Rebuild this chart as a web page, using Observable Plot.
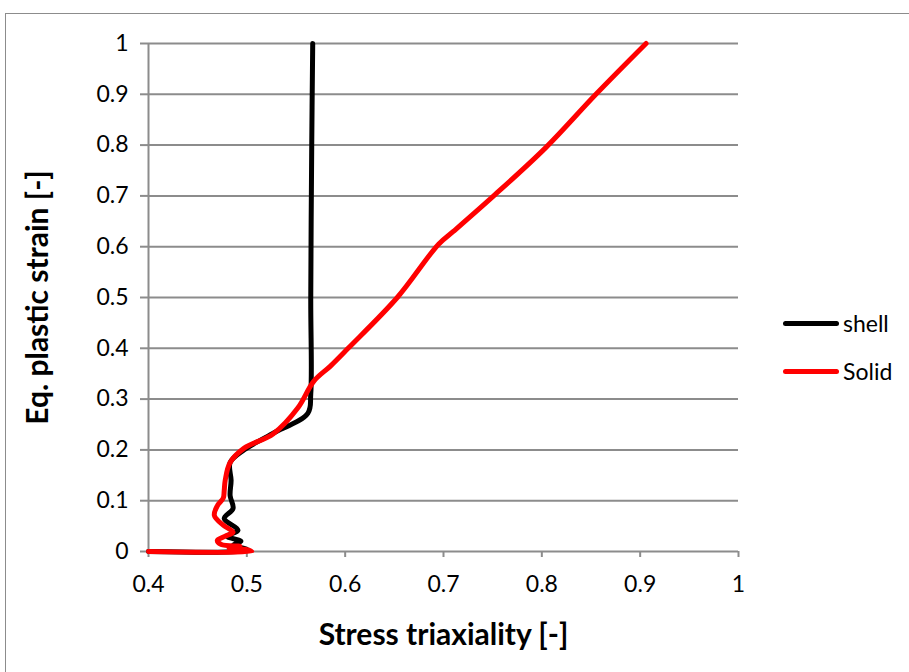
<!DOCTYPE html>
<html>
<head>
<meta charset="utf-8">
<script src="https://cdn.jsdelivr.net/npm/d3@7"></script>
<script src="https://cdn.jsdelivr.net/npm/@observablehq/plot@0.6"></script>
<style>
  html, body { margin: 0; padding: 0; background: #fff; }
  #wrap { position: relative; width: 909px; height: 672px; overflow: hidden; font-family: Lato, "Open Sans", sans-serif; }
  #frame { position: absolute; left: 5px; top: 13px; width: 1000px; height: 1000px; border: 1.5px solid #8c8c8c; box-sizing: border-box; }
  #chart { position: absolute; left: 0; top: 0; }
  #chart svg { font-family: Lato, "Open Sans", sans-serif; }
  #chart g[aria-label="x-axis tick"] path, #chart g[aria-label="y-axis tick"] path { stroke: #8c8c8c; stroke-width: 2; }
  #chart g[aria-label="x-axis tick label"], #chart g[aria-label="y-axis tick label"] { font-size: 23px; fill: #000; }
  #chart g[aria-label="x-axis label"], #chart g[aria-label="y-axis label"] { font-size: 30px; font-weight: bold; fill: #000; }
  .leg { position: absolute; display: flex; align-items: center; font-size: 23px; color: #000; }
  .leg span.sw { display: inline-block; width: 56px; height: 5px; border-radius: 2.5px; margin-right: 4px; }
</style>
</head>
<body>
<div id="wrap">
  <div id="frame"></div>
  <div id="chart"></div>
</div>
<script>
// Tick values
const xTicks = [0.4, 0.5, 0.6, 0.7, 0.8, 0.9, 1];
const yTicks = [0, 0.1, 0.2, 0.3, 0.4, 0.5, 0.6, 0.7, 0.8, 0.9, 1];

// Series names / colours
const seriesNames = ["shell", "Solid"];
const seriesColors = ["#000000", "#ff0000"];

// shell (stress triaxiality, eq. plastic strain)
const shellX = [0.400, 0.490, 0.500, 0.486, 0.494, 0.480, 0.491, 0.477, 0.486, 0.483, 0.484, 0.483, 0.497, 0.526, 0.562, 0.565, 0.565, 0.566, 0.567];
const shellY = [0.000, 0.000, 0.004, 0.012, 0.020, 0.030, 0.042, 0.065, 0.085, 0.110, 0.140, 0.175, 0.200, 0.232, 0.272, 0.310, 0.500, 0.800, 1.000];

// Solid
const solidX = [0.400, 0.505, 0.499, 0.482, 0.493, 0.474, 0.470, 0.478, 0.486, 0.476, 0.467, 0.470, 0.476, 0.477, 0.478, 0.483, 0.497, 0.527, 0.552, 0.568, 0.585, 0.603, 0.653, 0.695, 0.710, 0.751, 0.804, 0.855, 0.906];
const solidY = [0.000, 0.000, 0.004, 0.006, 0.010, 0.014, 0.022, 0.030, 0.038, 0.052, 0.071, 0.090, 0.105, 0.120, 0.140, 0.175, 0.203, 0.232, 0.283, 0.335, 0.365, 0.400, 0.500, 0.605, 0.630, 0.700, 0.795, 0.900, 1.000];

const shell = shellX.map((x, i) => ({x, y: shellY[i]}));
const solid = solidX.map((x, i) => ({x, y: solidY[i]}));

const chart = Plot.plot({
  width: 909,
  height: 672,
  marginLeft: 148,
  marginRight: 171,
  marginTop: 43,
  marginBottom: 121,
  x: {domain: [0.4, 1]},
  y: {domain: [0, 1]},
  marks: [
    Plot.gridY(yTicks, {stroke: "#8c8c8c", strokeOpacity: 1, strokeWidth: 2}),
    Plot.ruleX([0.4], {stroke: "#8c8c8c", strokeWidth: 2}),
    Plot.axisY({ticks: yTicks, tickSize: 8, tickPadding: 12, tickFormat: d3.format(""), label: "Eq. plastic strain [-]", labelAnchor: "center", labelOffset: 122, labelArrow: "none"}),
    Plot.axisX({ticks: xTicks, tickSize: 6, tickPadding: 18, tickFormat: d3.format(""), label: "Stress triaxiality [-]", labelAnchor: "center", labelOffset: 93, labelArrow: "none"}),
    Plot.line(shell, {x: "x", y: "y", stroke: seriesColors[0], strokeWidth: 5, curve: "catmull-rom"}),
    Plot.line(solid, {x: "x", y: "y", stroke: seriesColors[1], strokeWidth: 5, curve: "catmull-rom"})
  ]
});
document.getElementById("chart").appendChild(chart);

// Legend
const wrap = document.getElementById("wrap");
const legTops = [323, 371];
seriesNames.forEach((name, i) => {
  const d = document.createElement("div");
  d.className = "leg";
  d.style.left = "783px";
  d.style.top = (legTops[i] - 14) + "px";
  d.style.height = "28px";
  d.innerHTML = `<span class="sw" style="background:${seriesColors[i]}"></span>${name}`;
  wrap.appendChild(d);
});
</script>
</body>
</html>
